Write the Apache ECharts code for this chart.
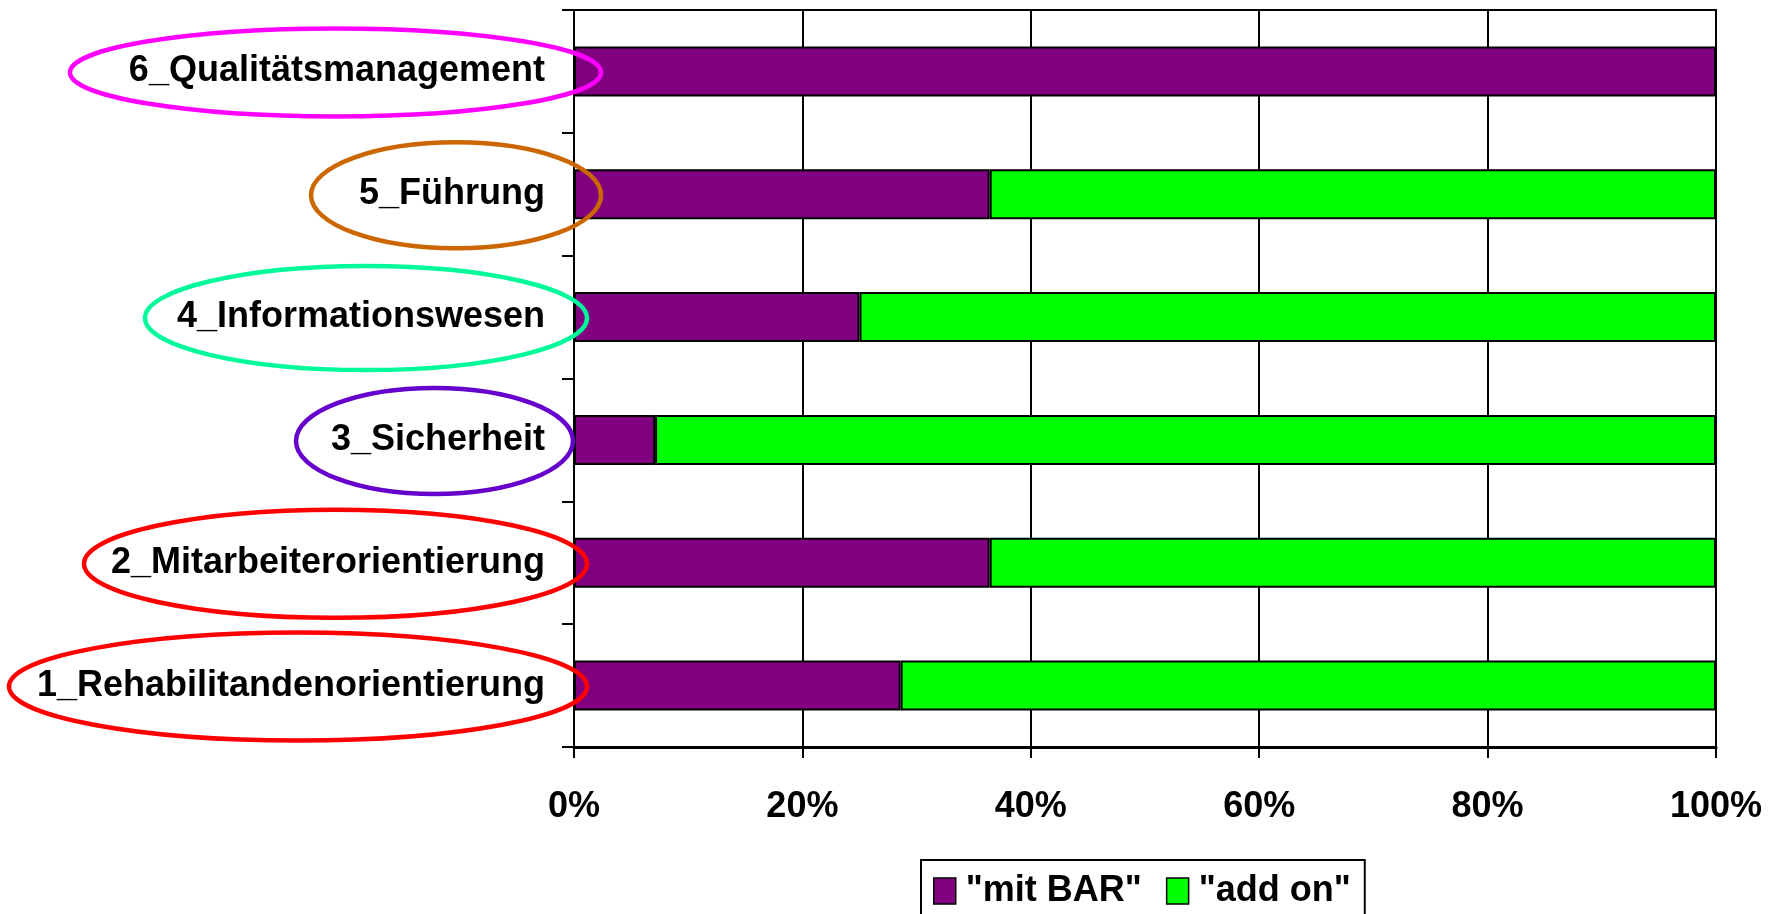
<!DOCTYPE html>
<html>
<head>
<meta charset="utf-8">
<script src="https://cdn.jsdelivr.net/npm/echarts@6/dist/echarts.min.js"></script>
<style>
  html, body { margin: 0; padding: 0; background: #fff; }
  #chart { width: 1779px; height: 914px; }
</style>
</head>
<body>
<div id="chart"></div>
<script>
const categories = ['1_Rehabilitandenorientierung', '2_Mitarbeiterorientierung', '3_Sicherheit', '4_Informationswesen', '5_Führung', '6_Qualitätsmanagement'];
const mitBar = [28.6, 36.4, 7.1, 25.0, 36.4, 100];
const addOn = [71.4, 63.6, 92.9, 75.0, 63.6, 0];
const seriesNames = ['"mit BAR"', '"add on"'];

// ring colours around the category labels, bottom to top
const ringColors = ['#FF0000', '#FF0000', '#6600CC', '#00FA9A', '#CC6600', '#FF00FF'];
const ringWidths = [578, 503, 277, 442, 290, 531];
const ringRightOff = [13, 13, -1, 13, 27, 27];
const ringRy = [54, 54, 53, 52, 53, 44];

const chart = echarts.init(document.getElementById('chart'));
const font = 'Liberation Sans, Arial, sans-serif';

const option = {
    animation: false,
    grid: {
        left: 574, right: 63, top: 10, bottom: 167,
        show: true, borderColor: '#000', borderWidth: 2
    },
    legend: {
        data: seriesNames,
        left: 921, top: 860,
        padding: [13, 14, 12, 12],
        borderColor: '#000', borderWidth: 2,
        icon: 'rect',
        itemWidth: 22, itemHeight: 26, itemGap: 24,
        selectedMode: false,
        itemStyle: { borderColor: '#000', borderWidth: 1.5 },
        textStyle: { fontSize: 36, fontWeight: 'bold', fontFamily: font, color: '#000', padding: [4, 0, 0, 5] }
    },
    xAxis: {
        type: 'value', min: 0, max: 100, interval: 20,
        axisLine: { show: true, lineStyle: { color: '#000', width: 3 } },
        axisTick: { show: true, length: 11, lineStyle: { color: '#000', width: 2 } },
        splitLine: { show: true, lineStyle: { color: '#000', width: 2 } },
        axisLabel: { formatter: '{value}%', fontSize: 36, fontWeight: 'bold', fontFamily: font, color: '#000', margin: 42 }
    },
    yAxis: {
        type: 'category', data: categories,
        axisLine: { show: true, lineStyle: { color: '#000', width: 2 } },
        axisTick: { show: true, length: 12, lineStyle: { color: '#000', width: 2 } },
        axisLabel: { fontSize: 36, fontWeight: 'bold', fontFamily: font, color: '#000', margin: 29, padding: [14, 0, 0, 0] }
    },
    series: [
        {
            name: seriesNames[0], type: 'bar', stack: 'total', data: mitBar, barWidth: 50,
            itemStyle: { color: '#800080', borderColor: '#000', borderWidth: 2 }
        },
        {
            name: seriesNames[1], type: 'bar', stack: 'total', data: addOn, barWidth: 50,
            itemStyle: { color: '#00FF00', borderColor: '#000', borderWidth: 2 }
        }
    ]
};

chart.setOption(option);

// ellipses around the labels, placed from the axis scale
const axisX = chart.convertToPixel({ xAxisIndex: 0 }, 0);
const rings = categories.map((c, i) => {
    const cy = chart.convertToPixel({ yAxisIndex: 0 }, c);
    const rx = ringWidths[i] / 2;
    return {
        type: 'ellipse', z: 100,
        shape: { cx: axisX + ringRightOff[i] - rx, cy: cy + 1, rx: rx, ry: ringRy[i] },
        style: { fill: null, stroke: ringColors[i], lineWidth: 4.5 }
    };
});
chart.setOption({ graphic: rings });
</script>
</body>
</html>
